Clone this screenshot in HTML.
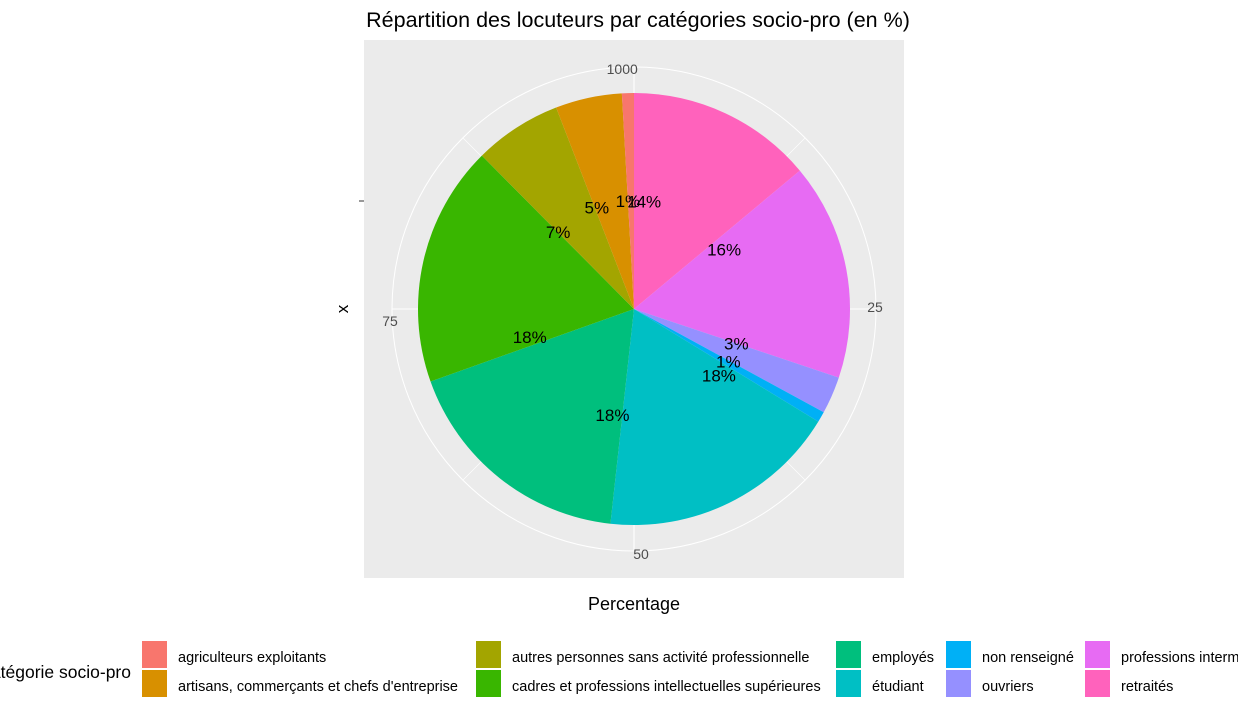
<!DOCTYPE html>
<html><head><meta charset="utf-8"><style>
body{margin:0;background:#fff;font-family:"Liberation Sans",Arial,sans-serif;}
</style></head><body>
<svg width="1238" height="717" xmlns="http://www.w3.org/2000/svg" font-family="Liberation Sans, Arial, sans-serif">
<text x="638" y="27" font-size="21.5" text-anchor="middle" fill="#000">Répartition des locuteurs par catégories socio-pro (en %)</text>
<rect x="364" y="40" width="540" height="538" fill="#ebebeb"/>
<g id="grid"></g>
<g id="slices"></g>
<g id="labels"></g>
<g id="ticks"></g>
<line x1="359" y1="201" x2="364" y2="201" stroke="#333" stroke-width="1"/>
<text x="348" y="309" font-size="17" text-anchor="middle" transform="rotate(-90 348 309)" fill="#000">x</text>
<text x="634" y="610" font-size="18" text-anchor="middle" fill="#000">Percentage</text>
<text x="131" y="678" font-size="17.5" text-anchor="end" fill="#000">Catégorie socio-pro</text>
<g id="legend"></g>
</svg>
<script>
const categories=["agriculteurs exploitants","artisans, commerçants et chefs d'entreprise","autres personnes sans activité professionnelle","cadres et professions intellectuelles supérieures","employés","étudiant","non renseigné","ouvriers","professions intermédiaires","retraités"];
const values=[0.9,5.0,6.6,18.1,17.9,18.1,0.8,2.8,16.3,14.0];
const labelText=["1%","5%","7%","18%","18%","18%","1%","3%","16%","14%"];
const labelPos=[99.1,94.4,87.6,70.8,53.2,35.6,33.1,30.2,15.7,1.5];
const tickLabels=["0","25","50","75","100"];
const tickValues=[0,25,50,75,100];
const colors=["#F8766D","#D89000","#A3A500","#39B600","#00BF7D","#00BFC4","#00B0F6","#9590FF","#E76BF3","#FF62BC"];
const NS="http://www.w3.org/2000/svg";
const cx=634,cy=309,R=216,RG=242;
const total=values.reduce((a,b)=>a+b,0);
function ang(p){return p/100*2*Math.PI;}
function pt(p,r){const a=ang(p);return [cx+r*Math.sin(a),cy-r*Math.cos(a)];}
function mk(t,attrs,parent){const e=document.createElementNS(NS,t);for(const k in attrs)e.setAttribute(k,attrs[k]);document.getElementById(parent).appendChild(e);return e;}
const c=mk("circle",{cx:cx,cy:cy,r:RG,fill:"none",stroke:"#fff","stroke-width":1},"grid");


for(let p=0;p<100;p+=12.5){const a=pt(p,0),b=pt(p,RG);const l=mk("line",{x1:a[0],y1:a[1],x2:b[0],y2:b[1],stroke:"#fff","stroke-width":p%25===0?1.1:0.6},"grid");

}
let acc=0;
for(let i=values.length-1;i>=0;i--){const s=acc/total*100,e=(acc+values[i])/total*100;acc+=values[i];
const a=pt(s,R),b=pt(e,R);const large=(e-s)>50?1:0;
const path=mk("path",{d:`M${cx},${cy}L${a[0]},${a[1]}A${R},${R} 0 ${large} 1 ${b[0]},${b[1]}Z`,fill:colors[i]},"slices");

}
for(let i=0;i<values.length;i++){const p=pt(labelPos[i],108);const t=mk("text",{x:p[0],y:p[1]+6,"font-size":17,"text-anchor":"middle",fill:"#000"},"labels");t.textContent=labelText[i];

}
for(let i=0;i<tickValues.length;i++){const p=pt(tickValues[i],RG);let x=p[0],y=p[1]+5,anc="middle";
if(tickValues[i]===25){x-=1;y-=2;}
if(tickValues[i]===50){x+=7;y+=3;}
if(tickValues[i]===75){x-=2;y+=12;}
if(tickValues[i]===0){x-=4;y+=2;anc="start";}
if(tickValues[i]===100){x-=4;y+=2;anc="end";}
const t=mk("text",{x:x,y:y,"font-size":14,"text-anchor":anc,fill:"#4d4d4d"},"ticks");t.textContent=tickLabels[i];

}
const colX=[142,476,836,946,1085];
for(let i=0;i<categories.length;i++){const col=Math.floor(i/2),row=i%2;const x=colX[col],y=641+row*29;
const r=mk("rect",{x:x,y:y,width:25,height:27,fill:colors[i]},"legend");


const t=mk("text",{x:x+36,y:y+21,"font-size":14.5,fill:"#000"},"legend");t.textContent=categories[i];

}
</script>
</body></html>
